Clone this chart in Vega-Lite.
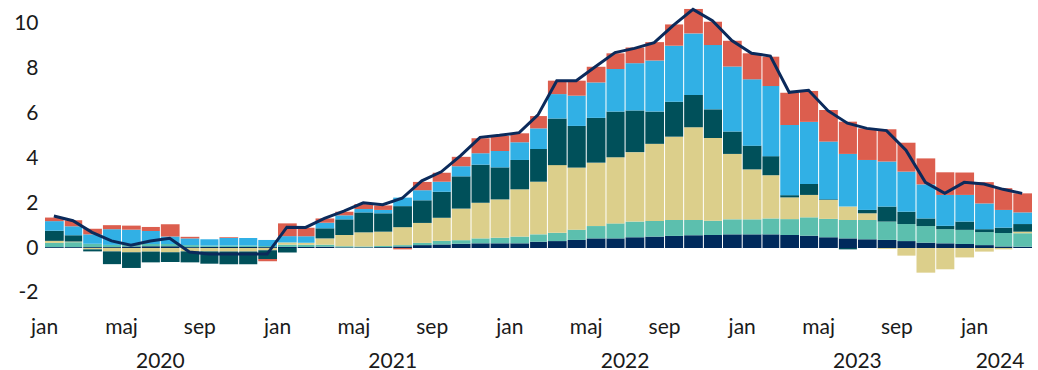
{
  "$schema": "https://vega.github.io/schema/vega-lite/v6.json",
  "width": 988,
  "height": 300,
  "autosize": {"type": "none"},
  "padding": {"left": 44, "top": 0, "right": 6, "bottom": 70},
  "background": "white",
  "config": {
    "view": {"stroke": null},
    "font": "Lato",
    "axis": {"grid": false, "domain": false, "ticks": false, "tickSize": 0, "labelFont": "Lato", "labelFontSize": 21, "labelColor": "#1a1a1a", "title": null}
  },
  "data": {"values": [
    {"manad":"2020-01-15","c1":0.04,"c2":0.19,"c3":0.09,"c4":0.45,"c5":0.43,"c6":0.16,"total":1.43},
    {"manad":"2020-02-15","c1":0.04,"c2":0.22,"c3":0.03,"c4":0.28,"c5":0.40,"c6":0.27,"total":1.22},
    {"manad":"2020-03-15","c1":0.04,"c2":0.15,"c3":-0.06,"c4":-0.09,"c5":0.42,"c6":0.25,"total":0.70},
    {"manad":"2020-04-15","c1":0.04,"c2":0.10,"c3":-0.15,"c4":-0.57,"c5":0.70,"c6":0.18,"total":0.32},
    {"manad":"2020-05-15","c1":0.07,"c2":0.10,"c3":-0.19,"c4":-0.70,"c5":0.65,"c6":0.18,"total":0.13},
    {"manad":"2020-06-15","c1":0.08,"c2":0.10,"c3":-0.16,"c4":-0.48,"c5":0.58,"c6":0.18,"total":0.31},
    {"manad":"2020-07-15","c1":0.08,"c2":0.10,"c3":-0.19,"c4":-0.43,"c5":0.33,"c6":0.55,"total":0.43},
    {"manad":"2020-08-15","c1":0.04,"c2":0.09,"c3":-0.15,"c4":-0.49,"c5":0.30,"c6":0.07,"total":-0.18},
    {"manad":"2020-09-15","c1":0.05,"c2":0.06,"c3":-0.15,"c4":-0.55,"c5":0.28,"c6":0.0,"total":-0.27},
    {"manad":"2020-10-15","c1":0.05,"c2":0.06,"c3":-0.15,"c4":-0.57,"c5":0.34,"c6":0.03,"total":-0.27},
    {"manad":"2020-11-15","c1":0.05,"c2":0.06,"c3":-0.15,"c4":-0.57,"c5":0.34,"c6":0.0,"total":-0.27},
    {"manad":"2020-12-15","c1":0.04,"c2":0.05,"c3":-0.10,"c4":-0.39,"c5":0.27,"c6":-0.10,"total":-0.27},
    {"manad":"2021-01-15","c1":0.05,"c2":0.10,"c3":0.10,"c4":-0.20,"c5":0.28,"c6":0.57,"total":0.93},
    {"manad":"2021-02-15","c1":0.05,"c2":0.10,"c3":0.09,"c4":0.0,"c5":0.28,"c6":0.39,"total":0.92},
    {"manad":"2021-03-15","c1":0.06,"c2":0.09,"c3":0.28,"c4":0.45,"c5":0.25,"c6":0.19,"total":1.32},
    {"manad":"2021-04-15","c1":0.03,"c2":0.05,"c3":0.50,"c4":0.70,"c5":0.18,"c6":0.16,"total":1.65},
    {"manad":"2021-05-15","c1":0.03,"c2":0.04,"c3":0.63,"c4":0.89,"c5":0.15,"c6":0.22,"total":2.02},
    {"manad":"2021-06-15","c1":0.04,"c2":0.05,"c3":0.64,"c4":0.82,"c5":0.15,"c6":0.20,"total":1.93},
    {"manad":"2021-07-15","c1":0.07,"c2":0.06,"c3":0.80,"c4":0.94,"c5":0.38,"c6":-0.06,"total":2.22},
    {"manad":"2021-08-15","c1":0.13,"c2":0.10,"c3":0.89,"c4":1.01,"c5":0.45,"c6":0.37,"total":3.00},
    {"manad":"2021-09-15","c1":0.16,"c2":0.16,"c3":1.03,"c4":1.16,"c5":0.45,"c6":0.40,"total":3.40},
    {"manad":"2021-10-15","c1":0.19,"c2":0.16,"c3":1.41,"c4":1.44,"c5":0.45,"c6":0.42,"total":4.12},
    {"manad":"2021-11-15","c1":0.21,"c2":0.22,"c3":1.59,"c4":1.70,"c5":0.51,"c6":0.67,"total":4.94},
    {"manad":"2021-12-15","c1":0.21,"c2":0.25,"c3":1.71,"c4":1.43,"c5":0.73,"c6":0.67,"total":5.03},
    {"manad":"2022-01-15","c1":0.21,"c2":0.30,"c3":2.11,"c4":1.31,"c5":0.79,"c6":0.40,"total":5.15},
    {"manad":"2022-02-15","c1":0.28,"c2":0.33,"c3":2.35,"c4":1.46,"c5":0.92,"c6":0.55,"total":5.94},
    {"manad":"2022-03-15","c1":0.31,"c2":0.37,"c3":3.02,"c4":2.08,"c5":1.09,"c6":0.60,"total":7.47},
    {"manad":"2022-04-15","c1":0.36,"c2":0.46,"c3":2.77,"c4":1.86,"c5":1.35,"c6":0.67,"total":7.47},
    {"manad":"2022-05-15","c1":0.43,"c2":0.55,"c3":2.83,"c4":2.00,"c5":1.58,"c6":0.70,"total":8.10},
    {"manad":"2022-06-15","c1":0.43,"c2":0.67,"c3":2.95,"c4":2.04,"c5":1.90,"c6":0.70,"total":8.72},
    {"manad":"2022-07-15","c1":0.48,"c2":0.70,"c3":3.10,"c4":1.86,"c5":2.11,"c6":0.70,"total":8.91},
    {"manad":"2022-08-15","c1":0.51,"c2":0.70,"c3":3.44,"c4":1.44,"c5":2.28,"c6":0.82,"total":9.17},
    {"manad":"2022-09-15","c1":0.54,"c2":0.71,"c3":3.72,"c4":1.56,"c5":2.50,"c6":0.95,"total":9.95},
    {"manad":"2022-10-15","c1":0.57,"c2":0.68,"c3":4.14,"c4":1.44,"c5":2.75,"c6":1.09,"total":10.65},
    {"manad":"2022-11-15","c1":0.58,"c2":0.64,"c3":3.69,"c4":1.28,"c5":2.87,"c6":1.04,"total":10.15},
    {"manad":"2022-12-15","c1":0.61,"c2":0.67,"c3":2.92,"c4":1.00,"c5":2.90,"c6":1.15,"total":9.26},
    {"manad":"2023-01-15","c1":0.61,"c2":0.67,"c3":2.23,"c4":1.06,"c5":2.96,"c6":1.16,"total":8.69},
    {"manad":"2023-02-15","c1":0.61,"c2":0.71,"c3":1.93,"c4":0.85,"c5":3.13,"c6":1.31,"total":8.57},
    {"manad":"2023-03-15","c1":0.58,"c2":0.71,"c3":0.97,"c4":0.10,"c5":3.13,"c6":1.44,"total":6.95},
    {"manad":"2023-04-15","c1":0.55,"c2":0.82,"c3":1.00,"c4":0.49,"c5":2.77,"c6":1.38,"total":7.04},
    {"manad":"2023-05-15","c1":0.48,"c2":0.82,"c3":0.85,"c4":0.03,"c5":2.57,"c6":1.41,"total":6.13},
    {"manad":"2023-06-15","c1":0.43,"c2":0.82,"c3":0.60,"c4":-0.06,"c5":2.35,"c6":1.44,"total":5.57},
    {"manad":"2023-07-15","c1":0.39,"c2":0.86,"c3":0.30,"c4":0.15,"c5":2.23,"c6":1.41,"total":5.34},
    {"manad":"2023-08-15","c1":0.36,"c2":0.82,"c3":-0.04,"c4":0.67,"c5":2.01,"c6":1.44,"total":5.24},
    {"manad":"2023-09-15","c1":0.31,"c2":0.76,"c3":-0.34,"c4":0.55,"c5":1.79,"c6":1.29,"total":4.37},
    {"manad":"2023-10-15","c1":0.24,"c2":0.74,"c3":-1.10,"c4":0.34,"c5":1.52,"c6":1.16,"total":2.93},
    {"manad":"2023-11-15","c1":0.21,"c2":0.63,"c3":-0.95,"c4":0.15,"c5":1.38,"c6":1.01,"total":2.44},
    {"manad":"2023-12-15","c1":0.18,"c2":0.63,"c3":-0.42,"c4":0.37,"c5":1.19,"c6":1.00,"total":2.93},
    {"manad":"2024-01-15","c1":0.13,"c2":0.58,"c3":-0.16,"c4":0.13,"c5":1.15,"c6":0.95,"total":2.86},
    {"manad":"2024-02-15","c1":0.07,"c2":0.60,"c3":-0.06,"c4":0.24,"c5":0.79,"c6":0.97,"total":2.62},
    {"manad":"2024-03-15","c1":0.06,"c2":0.60,"c3":0.07,"c4":0.34,"c5":0.52,"c6":0.85,"total":2.44}
  ]},
  "layer": [
    {
      "transform": [{"fold": ["c1", "c2", "c3", "c4", "c5", "c6"], "as": ["komponent", "bidrag"]}],
      "mark": {"type": "bar", "timeUnitBandSize": 0.89},
      "encoding": {
        "x": {
          "field": "manad", "timeUnit": "yearmonth", "type": "temporal",
          "scale": {"domain": [{"year": 2020, "month": 1, "date": 1}, {"year": 2024, "month": 4, "date": 1}]},
          "axis": {
            "values": [
              {"year": 2020, "month": 1, "date": 1}, {"year": 2020, "month": 5, "date": 1}, {"year": 2020, "month": 7, "date": 1}, {"year": 2020, "month": 9, "date": 1},
              {"year": 2021, "month": 1, "date": 1}, {"year": 2021, "month": 5, "date": 1}, {"year": 2021, "month": 7, "date": 1}, {"year": 2021, "month": 9, "date": 1},
              {"year": 2022, "month": 1, "date": 1}, {"year": 2022, "month": 5, "date": 1}, {"year": 2022, "month": 7, "date": 1}, {"year": 2022, "month": 9, "date": 1},
              {"year": 2023, "month": 1, "date": 1}, {"year": 2023, "month": 5, "date": 1}, {"year": 2023, "month": 7, "date": 1}, {"year": 2023, "month": 9, "date": 1},
              {"year": 2024, "month": 1, "date": 1}, {"year": 2024, "month": 2, "date": 10}
            ],
            "labelExpr": "(month(datum.value) == 6 || date(datum.value) != 1) ? ['', timeFormat(datum.value, '%Y')] : ['jan','feb','mar','apr','maj','jun','jul','aug','sep','okt','nov','dec'][month(datum.value)]",
            "labelBaseline": "alphabetic",
            "labelAlign": "center",
            "labelPadding": 33,
            "labelLineHeight": 34,
            "labelOverlap": false,
            "labelFlush": false
          }
        },
        "y": {
          "field": "bidrag", "type": "quantitative",
          "scale": {"domain": [-2.32, 11.07], "nice": false, "zero": false},
          "axis": {"values": [-2, 0, 2, 4, 6, 8, 10], "labelExpr": "toString(datum.value)", "labelPadding": 6}
        },
        "color": {
          "field": "komponent", "type": "nominal",
          "scale": {"domain": ["c1", "c2", "c3", "c4", "c5", "c6"], "range": ["#002a5c", "#5cbfae", "#dccf8b", "#00505a", "#31b0e5", "#dc5e4e"]},
          "legend": null
        },
        "order": {"field": "komponent", "type": "ordinal", "sort": "ascending"}
      }
    },
    {
      "mark": {"type": "line", "color": "#0b2a5b", "strokeWidth": 3},
      "encoding": {
        "x": {"field": "manad", "timeUnit": "yearmonth", "type": "temporal", "bandPosition": 0.5},
        "y": {"field": "total", "type": "quantitative"}
      }
    }
  ]
}
